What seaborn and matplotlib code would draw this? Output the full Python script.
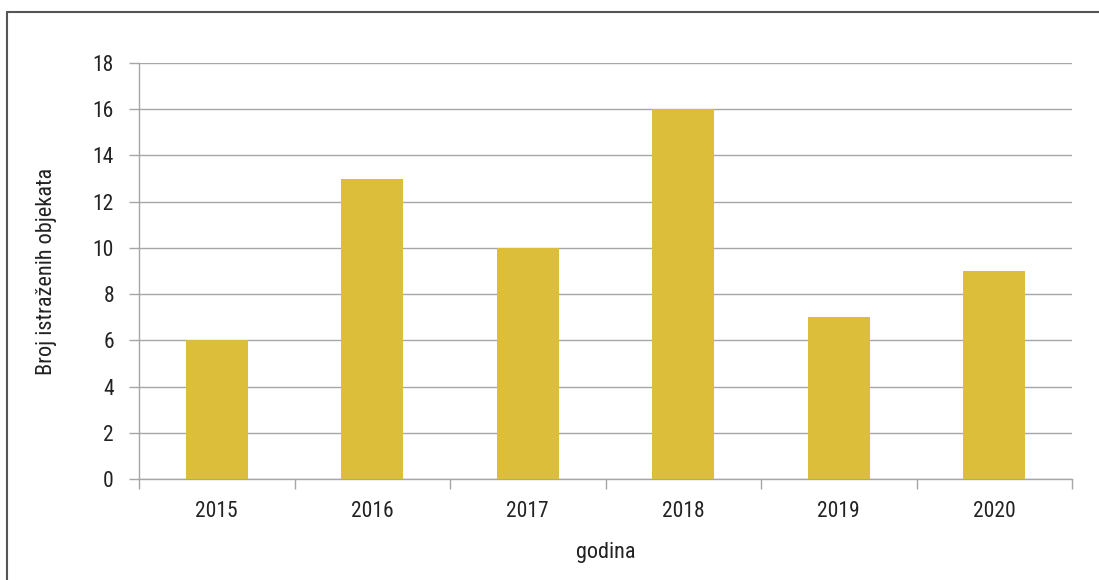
import seaborn as sns
import matplotlib.pyplot as plt
import pandas as pd
from matplotlib.lines import Line2D

godine = ["2015", "2016", "2017", "2018", "2019", "2020"]
broj_objekata = [6, 13, 10, 16, 7, 9]
y_ticks = [0, 2, 4, 6, 8, 10, 12, 14, 16, 18]

df = pd.DataFrame({"godina": godine, "broj": broj_objekata})

sns.set_theme(style="white")
plt.rcParams["font.family"] = ["Liberation Sans Narrow", "Roboto Condensed",
                               "DejaVu Sans"]
plt.rcParams["font.stretch"] = "condensed"

W, H = 1099, 580
fig = plt.figure(figsize=(W / 100, H / 100), dpi=100)
ax = fig.add_axes([139 / W, 1 - 479 / H, (1072 - 139) / W, (479 - 63) / H])

sns.barplot(data=df, x="godina", y="broj", color="#DDBE3A", width=0.4,
            saturation=1, edgecolor="none", linewidth=0, ax=ax, zorder=3)

gray = "#A6A6A6"
ax.set_ylim(0, 18)
ax.set_xlim(-0.5, len(godine) - 0.5)
ax.set_yticks(y_ticks)
ax.yaxis.grid(True, color=gray, linewidth=1)
ax.set_axisbelow(True)
for side in ["top", "right"]:
    ax.spines[side].set_visible(False)
for side in ["left", "bottom"]:
    ax.spines[side].set_color(gray)
    ax.spines[side].set_linewidth(1)

# x tick marks between categories
ax.set_xticks([i - 0.5 for i in range(len(godine) + 1)], minor=True)
ax.tick_params(axis="x", which="major", bottom=False, length=0, pad=16,
               labelsize=15.5, colors="#222222")
ax.tick_params(axis="x", which="minor", bottom=True, length=7, width=1,
               color=gray, direction="out")
ax.tick_params(axis="y", left=True, length=7, width=1, color=gray, pad=11,
               labelsize=15.5, labelcolor="#222222")

ax.set_xlabel("godina", fontsize=16, color="#222222", labelpad=14)
ax.set_ylabel("Broj istraženih objekata", fontsize=16, color="#222222",
              labelpad=26)

# outer frame (top and left edges visible)
fig.add_artist(Line2D([7 / W, 1], [1 - 12 / H, 1 - 12 / H],
                      transform=fig.transFigure, color="#555555", linewidth=1.5))
fig.add_artist(Line2D([7 / W, 7 / W], [0, 1 - 12 / H],
                      transform=fig.transFigure, color="#555555", linewidth=1.5))

fig.savefig("out.png", dpi=100)
